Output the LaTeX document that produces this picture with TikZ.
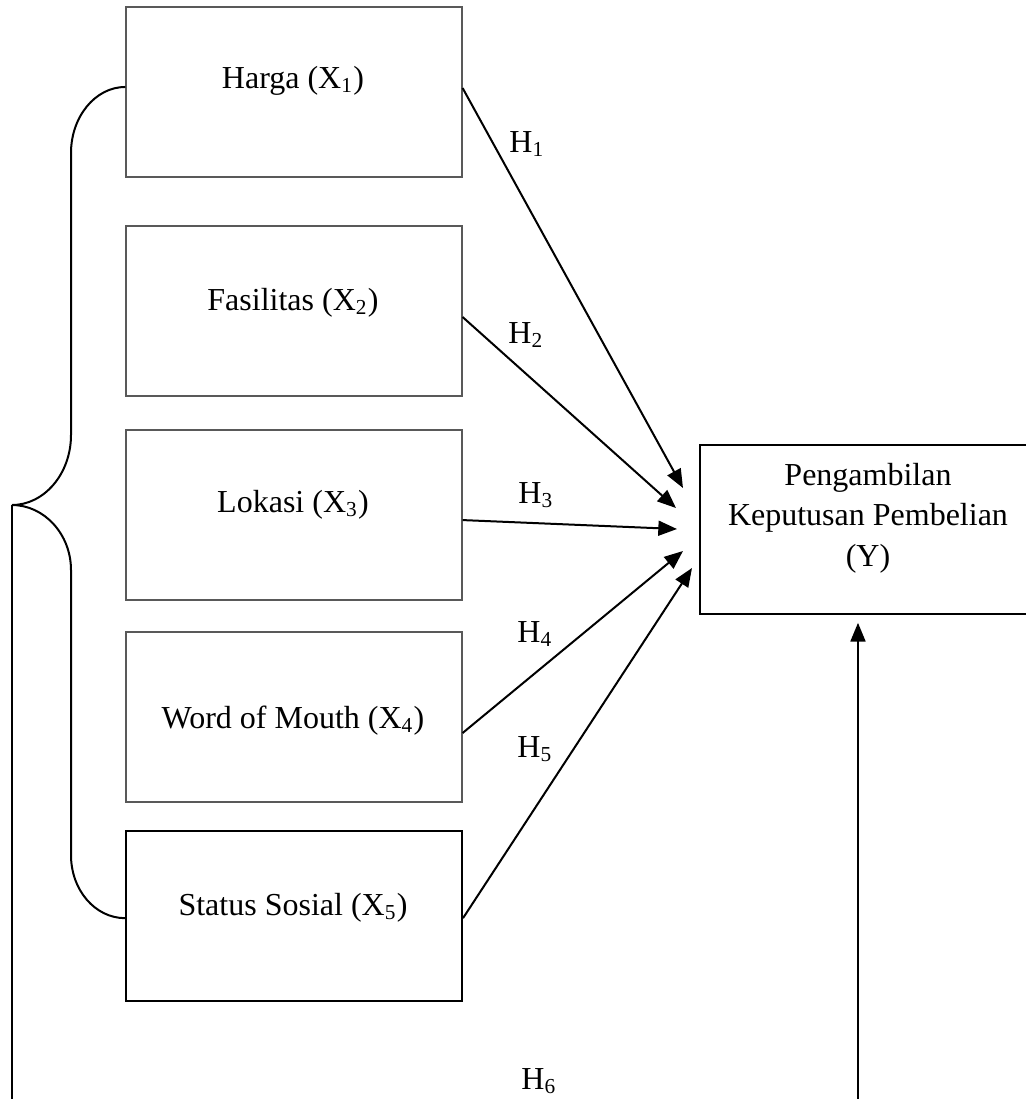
\documentclass[tikz,border=0pt]{standalone}
\usepackage{fontspec}
\setmainfont{Liberation Serif}
\usetikzlibrary{arrows.meta}
\begin{document}
\begin{tikzpicture}[x=0.375pt,y=-0.375pt,
  varbox/.style={draw=black!65, line width=0.45pt, minimum width=126pt, minimum height=63.75pt, inner sep=0pt},
  lbl/.style={font=\fontsize{12}{15.2}\selectfont, anchor=base, inner sep=0pt},
  link/.style={line width=0.75pt, -{Triangle[length=7pt,width=5.6pt]}},
  bracel/.style={line width=0.75pt}]
\clip (0,0) rectangle (1026,1099);
% boxes
\node[varbox] (b1) at (294,92) {};
\node[varbox] (b2) at (294,311) {};
\node[varbox] (b3) at (294,515) {};
\node[varbox] (b4) at (294,717) {};
\node[varbox, draw=black, line width=0.75pt] (b5) at (294,915.5) {};
\node[draw, line width=0.6pt, minimum width=126pt, minimum height=63.4pt, inner sep=0pt] (y) at (868,529.5) {};
% box texts
\node[lbl] (t1) at (293,88) {Harga (X\textsubscript{1})};
\node[lbl] (t2) at (293,310) {Fasilitas (X\textsubscript{2})};
\node[lbl] (t3) at (293,512) {Lokasi (X\textsubscript{3})};
\node[lbl] (t4) at (293,728) {Word of Mouth (X\textsubscript{4})};
\node[lbl] (t5) at (293,915) {Status Sosial (X\textsubscript{5})};
\node[font=\fontsize{12}{15.2}\selectfont, align=center, inner sep=0pt] (ty) at (868,518) {Pengambilan\\Keputusan Pembelian\\(Y)};
% arrow ends
\coordinate (e1) at (683,488);
\coordinate (e2) at (676,508);
\coordinate (e3) at (677,529);
\coordinate (e4) at (683,551);
\coordinate (e5) at (692,568);
\draw[link] ([yshift=1.5pt]b1.east) -- (e1);
\draw[link] ([yshift=-2.25pt]b2.east) -- (e2);
\draw[link] ([yshift=-1.9pt]b3.east) -- (e3);
\draw[link] ([yshift=-6pt]b4.east) -- (e4);
\draw[link] ([yshift=-1pt]b5.east) -- (e5);
% hypothesis labels
\node[lbl] (h1) at (527,152) {H\textsubscript{1}};
\node[lbl] (h2) at (526,343) {H\textsubscript{2}};
\node[lbl] (h3) at (536,503) {H\textsubscript{3}};
\node[lbl] (h4) at (535,642) {H\textsubscript{4}};
\node[lbl] (h5) at (535,757) {H\textsubscript{5}};
\node[lbl] (h6) at (539,1089) {H\textsubscript{6}};
% brace
\coordinate (tip) at (12,505);
\draw[bracel] ([yshift=1.9pt]b1.west) .. controls (95,87) and (71,117) .. (71,153) -- (71,435)
  .. controls (71,474) and (44,505) .. (tip)
  .. controls (44,505) and (71,534) .. (71,570) -- (71,855)
  .. controls (71,890) and (95,918) .. ([yshift=-1pt]b5.west);
\coordinate (lb) at (12,1099);
\draw[bracel] (tip) -- (lb);
\coordinate (rb) at (858,1099);
\draw[link, shorten >=3pt] (rb) -- (rb |- y.south);
\end{tikzpicture}
\end{document}
